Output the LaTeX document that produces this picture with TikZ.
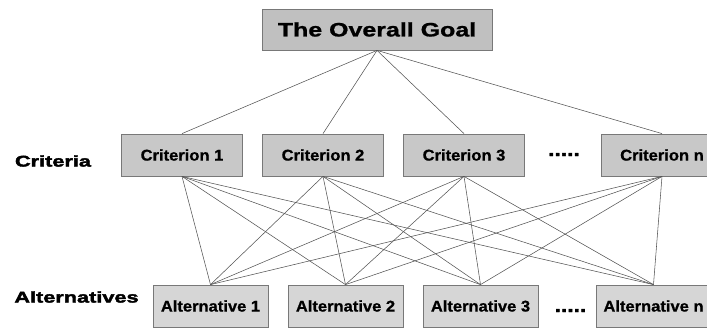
\documentclass[tikz,border=0pt]{standalone}
\usepackage{fontspec}
\setmainfont{Liberation Sans}
\newfontfamily\goalfont[FakeStretch=1.28,FakeBold=1]{Liberation Sans}
\newfontfamily\boxfont[FakeStretch=1.06,FakeBold=0.8]{Liberation Sans}
\newfontfamily\labfont[FakeStretch=1.40,FakeBold=2.5]{Liberation Sans}
\newfontfamily\dotfont[FakeStretch=1.2,FakeBold=2]{Liberation Sans}
\definecolor{goalfill}{RGB}{192,192,192}
\definecolor{critfill}{RGB}{200,200,200}
\definecolor{altfill}{RGB}{214,214,214}
\definecolor{boxline}{RGB}{120,120,120}
\definecolor{linkline}{RGB}{85,85,85}
\begin{document}
\begin{tikzpicture}[x=1pt,y=-1pt,
  goalbox/.style={draw=boxline,line width=0.8pt,fill=goalfill,minimum width=230pt,minimum height=41pt,inner sep=0pt,font=\goalfont\bfseries\fontsize{19.5}{22}\selectfont},
  critbox/.style={draw=boxline,line width=0.8pt,fill=critfill,minimum width=121pt,minimum height=42pt,inner sep=0pt,font=\boxfont\bfseries\fontsize{15.6}{18}\selectfont},
  altbox/.style={draw=boxline,line width=0.8pt,fill=altfill,minimum width=115pt,minimum height=42pt,inner sep=0pt,font=\boxfont\bfseries\fontsize{15.6}{18}\selectfont},
  lab/.style={inner sep=0pt,font=\labfont\bfseries\fontsize{15.5}{18}\selectfont},
  dotstext/.style={inner sep=0pt,anchor=base,font=\dotfont\bfseries\fontsize{19}{20}\selectfont},
  link/.style={draw=linkline,line width=0.55pt}]
\useasboundingbox (0,0) rectangle (707,329);
\begin{scope}
\clip (0,0) rectangle (707,329);
\node[goalbox] (goal) at (377,29.5) {The Overall Goal};
\node[critbox] (c1) at (182,155) {Criterion 1};
\node[critbox] (c2) at (323,155) {Criterion 2};
\node[critbox] (c3) at (464,155) {Criterion 3};
\node[critbox] (cn) at (662,155) {Criterion n};
\node[altbox] (a1) at (210.5,306) {Alternative 1};
\node[altbox] (a2) at (345.5,306) {Alternative 2};
\node[altbox] (a3) at (480.5,306) {Alternative 3};
\node[altbox] (an) at (653.5,306) {Alternative n};
\node[lab] (lcrit) at (53,161) {Criteria};
\node[lab] (lalt) at (76.5,297) {Alternatives};
\node[dotstext] (d1) at (564,156) {.....};
\node[dotstext] (d2) at (570.5,312) {.....};
\foreach \c in {c1,c2,c3,cn}{
  \draw[link] (goal.south) -- (\c.north);
  \foreach \a in {a1,a2,a3,an}{
    \draw[link] (\c.south) -- (\a.north);
  }
}
\end{scope}
\end{tikzpicture}
\end{document}
